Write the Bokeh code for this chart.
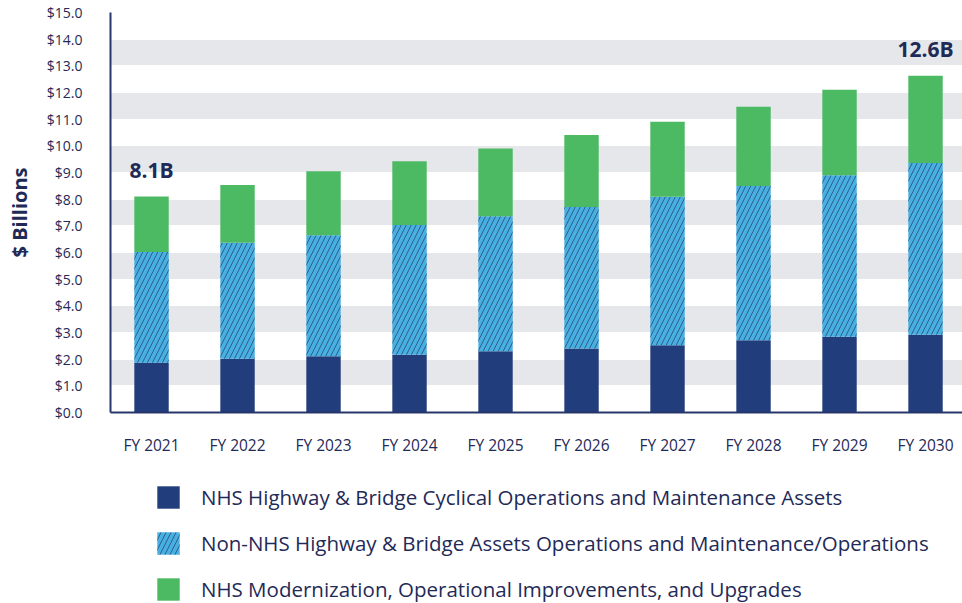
import numpy as np
from bokeh.plotting import figure
from bokeh.layouts import column
from bokeh.models import (Range1d, FixedTicker, NumeralTickFormatter,
                          Legend, LegendItem, ColumnDataSource)
from bokeh.core.properties import value
from bokeh.embed import file_html
from bokeh.resources import INLINE

years = ["FY 2021", "FY 2022", "FY 2023", "FY 2024", "FY 2025",
         "FY 2026", "FY 2027", "FY 2028", "FY 2029", "FY 2030"]
nhs_cyclical = [1.87, 2.02, 2.11, 2.17, 2.30, 2.40, 2.52, 2.71, 2.84, 2.92]
non_nhs = [4.15, 4.35, 4.54, 4.86, 5.06, 5.31, 5.57, 5.78, 6.06, 6.44]
modernization = [2.08, 2.16, 2.40, 2.39, 2.54, 2.70, 2.81, 2.98, 3.20, 3.27]
series_names = [
    "NHS Highway & Bridge Cyclical Operations and Maintenance Assets",
    "Non-NHS Highway & Bridge Assets Operations and Maintenance/Operations",
    "NHS Modernization, Operational Improvements, and Upgrades",
]
y_ticks = list(range(0, 16))

NAVY = "#223d7b"
BLUE = "#47afe2"
GREEN = "#4cb963"
TEXT = "#1f2a57"
BAND = "#e6e7eb"
FONT = "Open Sans"
HATCH = dict(hatch_pattern="/", hatch_color="#1d2b4f", hatch_alpha=0.6,
             hatch_weight=1, hatch_scale=10)

x = np.arange(len(years))
b0 = np.zeros(len(years))
t0 = b0 + np.array(nhs_cyclical)
t1 = t0 + np.array(non_nhs)
t2 = t1 + np.array(modernization)

p = figure(width=962, height=460, output_backend="svg", toolbar_location=None,
           x_range=Range1d(-0.477, 9.43), y_range=Range1d(0, 15),
           min_border_left=110, min_border_right=0, min_border_top=12,
           min_border_bottom=48)
p.outline_line_color = None
p.background_fill_color = "white"

# grid bands (Bokeh fills between odd-indexed tick pairs)
p.xgrid.grid_line_color = None
p.ygrid.ticker = FixedTicker(ticks=[y_ticks[0] - 1] + y_ticks)
p.ygrid.grid_line_color = "white"
p.ygrid.grid_line_width = 1
p.ygrid.band_fill_color = BAND
p.ygrid.band_fill_alpha = 1.0

w = 0.4
p.vbar(x=x, bottom=b0, top=t0, width=w, fill_color=NAVY, line_color=None)
p.vbar(x=x, bottom=t0, top=t1, width=w, fill_color=BLUE, line_color=None, **HATCH)
p.vbar(x=x, bottom=t1, top=t2, width=w, fill_color=GREEN, line_color=None)

# total labels on first and last bars
idx = [0, len(years) - 1]
lab_src = ColumnDataSource(dict(x=[x[i] for i in idx], y=[t2[i] for i in idx],
                                t=[f"{t2[i]:.1f}B" for i in idx]))
p.text(x="x", y="y", text="t", source=lab_src, text_align="center",
       text_baseline="bottom", y_offset=-13, text_font=value(FONT),
       text_font_style="bold", text_font_size="21px", text_color=TEXT)

# axes
p.yaxis.ticker = FixedTicker(ticks=y_ticks)
p.yaxis.formatter = NumeralTickFormatter(format="$0.0")
p.yaxis.axis_label = "$ Billions"
p.yaxis.axis_label_text_font = FONT
p.yaxis.axis_label_text_font_style = "bold"
p.yaxis.axis_label_text_font_size = "20px"
p.yaxis.axis_label_text_color = TEXT
p.yaxis.axis_label_standoff = 11
p.xaxis.ticker = FixedTicker(ticks=list(x))
p.xaxis.major_label_overrides = {int(i): years[i] for i in x}
for ax in (p.xaxis, p.yaxis):
    ax.axis_line_color = "#27366b"
    ax.axis_line_width = 2
    ax.major_tick_line_color = None
    ax.minor_tick_line_color = None
    ax.major_label_text_font = FONT
    ax.major_label_text_color = TEXT
p.yaxis.major_label_text_font_size = "14px"
p.xaxis.major_label_text_font_size = "15.5px"
p.yaxis.major_label_standoff = 22
p.xaxis.major_label_standoff = 15

# legend in its own strip below the chart (frames align with the chart above)
lg = figure(width=962, height=143, output_backend="svg", toolbar_location=None,
            x_range=Range1d(100, 101), y_range=Range1d(100, 101),
            x_axis_type=None, y_axis_type=None, min_border=0)
lg.outline_line_color = None
lg.grid.visible = False
g0 = lg.vbar(x=x[:1], top=t0[:1], width=w, fill_color=NAVY, line_color=None)
g1 = lg.vbar(x=x[:1], top=t1[:1], width=w, fill_color=BLUE, line_color=None, **HATCH)
g2 = lg.vbar(x=x[:1], top=t2[:1], width=w, fill_color=GREEN, line_color=None)
legend = Legend(items=[LegendItem(label=series_names[0], renderers=[g0]),
                       LegendItem(label=series_names[1], renderers=[g1]),
                       LegendItem(label=series_names[2], renderers=[g2])],
                location=(44, 0), orientation="vertical",
                glyph_width=28, glyph_height=28, label_standoff=19, spacing=18,
                padding=0, margin=0, border_line_color=None,
                background_fill_alpha=0, label_text_font=FONT,
                label_text_font_size="20.5px", label_text_color=TEXT,
                label_height=28)
lg.add_layout(legend, "center")

layout = column(p, lg, spacing=0)
open("out.html", "w").write(file_html(layout, INLINE))
